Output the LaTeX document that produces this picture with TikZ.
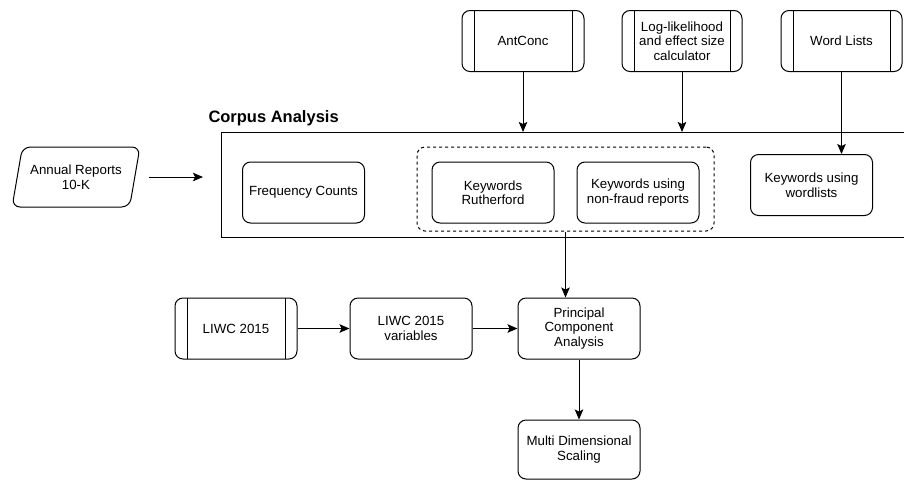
\documentclass[tikz,border=0pt]{standalone}
\usepackage{fontspec}
\setmainfont{Liberation Sans}
\usetikzlibrary{arrows.meta,positioning,shapes.geometric}

\begin{document}
\begin{tikzpicture}[
  x=1pt, y=-1pt,
  font=\fontsize{13.3}{14.5}\selectfont,
  >={Stealth[length=10pt, width=8.5pt, inset=2pt]},
  line width=1pt,
  box/.style={draw, rounded corners=8pt, align=center, inner sep=2pt, minimum width=122pt, minimum height=61pt},
  process/.style={box, path picture={
      \draw ([xshift=12pt]path picture bounding box.north west) -- ([xshift=12pt]path picture bounding box.south west);
      \draw ([xshift=-12pt]path picture bounding box.north east) -- ([xshift=-12pt]path picture bounding box.south east);}},
  data/.style={draw, trapezium, trapezium left angle=71, trapezium right angle=109, trapezium stretches=true,
    rounded corners=8pt, align=center, inner sep=1pt, minimum width=128pt, minimum height=60pt},
  arrow/.style={->}
]
  \useasboundingbox (0,0) rectangle (904,480);

  \node[data] (ar) at (76,177) {Annual Reports\\10-K};
  \node[draw, anchor=north west, minimum width=685pt, minimum height=105pt, inner sep=0pt] (corpus) at (221,132) {};
  \node[anchor=base west, font=\fontsize{16.5}{18}\selectfont\bfseries, inner sep=0pt] (title) at (208,122) {Corpus Analysis};

  \node[box] (freq) at (303.5,192.5) {Frequency Counts};
  \node[box] (kwr) at (493,192.5) {Keywords\\Rutherford};
  \node[box, right=22pt of kwr] (kwn) {Keywords using\\non-fraud reports};
  \node[box] (kww) at (811.5,185) {Keywords using\\wordlists};
  \node[draw, dashed, rounded corners=8pt, minimum width=297pt, minimum height=84pt] (grp) at (565.5,189) {};

  \node[process] (antconc) at (523,41) {AntConc};
  \node[process, minimum width=120pt] (llc) at (682,41) {Log-likelihood\\and effect size\\calculator};
  \node[process, minimum width=121pt] (wl) at (841.5,41) {Word Lists};

  \node[process] (liwc) at (236,328.5) {LIWC 2015};
  \node[box, right=52pt of liwc] (liwcv) {LIWC 2015\\variables};
  \node[box, right=45pt of liwcv] (pca) {Principal\\Component\\Analysis};
  \node[box, below=60pt of pca, minimum height=59pt] (mds) {Multi Dimensional\\Scaling};

  \draw[arrow] ([xshift=14pt]ar.east) -- ([xshift=-18pt]ar.east -| corpus.west);
  \draw[arrow] (antconc) -- (antconc.south |- corpus.north);
  \draw[arrow] (llc) -- (llc.south |- corpus.north);
  \draw[arrow] (wl) -- (wl.south |- kww.north);
  \draw[arrow] (grp.south) -- (grp.south |- pca.north);
  \draw[arrow] (liwc) -- (liwcv);
  \draw[arrow] (liwcv) -- (pca);
  \draw[arrow] (pca) -- (mds);
\end{tikzpicture}
\end{document}
